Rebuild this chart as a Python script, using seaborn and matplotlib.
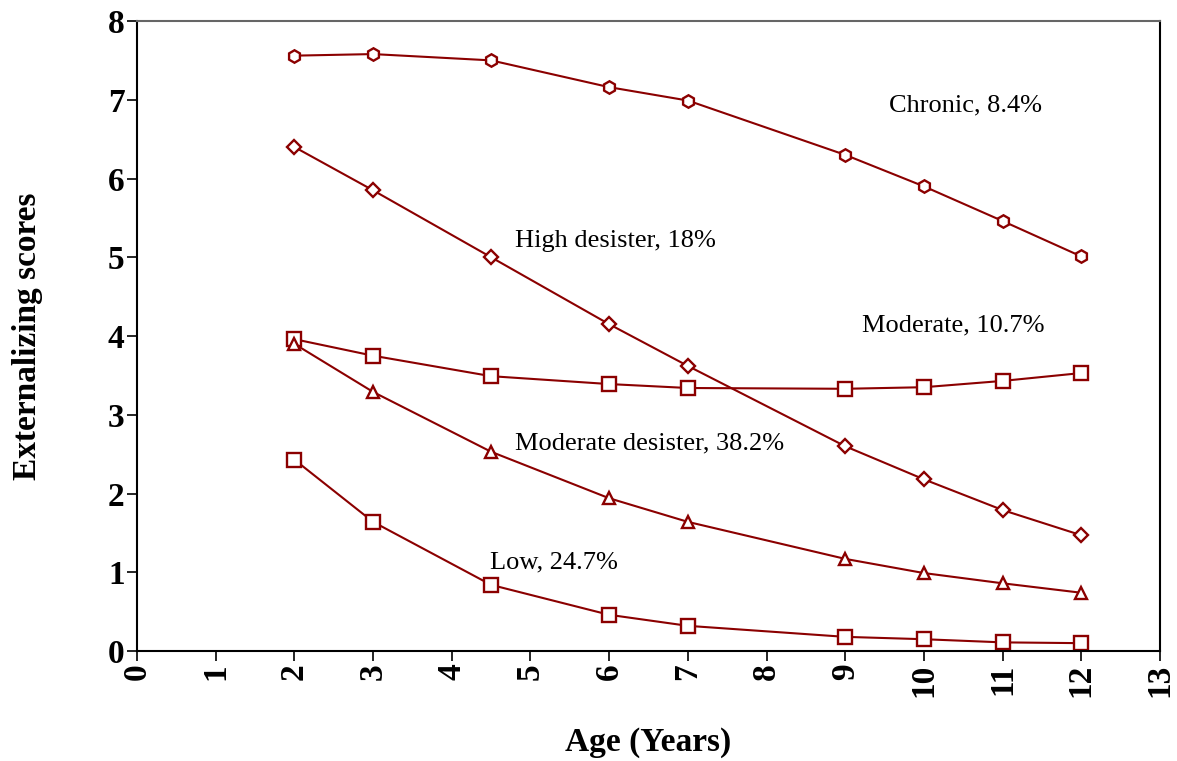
import matplotlib
matplotlib.use("Agg")
import matplotlib.pyplot as plt
import seaborn as sns
import pandas as pd

ages = [2, 3, 4.5, 6, 7, 9, 10, 11, 12]
chronic = [7.56, 7.58, 7.50, 7.16, 6.99, 6.30, 5.90, 5.46, 5.01]
high_desister = [6.40, 5.85, 5.00, 4.15, 3.62, 2.60, 2.18, 1.79, 1.47]
moderate = [3.96, 3.75, 3.49, 3.39, 3.34, 3.33, 3.35, 3.43, 3.53]
moderate_desister = [3.90, 3.29, 2.53, 1.94, 1.64, 1.17, 0.99, 0.86, 0.74]
low = [2.43, 1.64, 0.84, 0.46, 0.32, 0.18, 0.15, 0.11, 0.10]

groups = ["Chronic", "High desister", "Moderate", "Moderate desister", "Low"]
values = [chronic, high_desister, moderate, moderate_desister, low]
markers = ["h", "D", "s", "^", "s"]
msizes = [9, 7, 10, 9, 10]
labels = ["Chronic, 8.4%", "High desister, 18%", "Moderate, 10.7%",
          "Moderate desister, 38.2%", "Low, 24.7%"]
label_pos = [(9.55, 6.93), (4.80, 5.21), (9.21, 4.13), (4.80, 2.63), (4.49, 1.12)]

x_ticks = list(range(0, 14))
y_ticks = list(range(0, 9))

sns.set_theme(style="white")
plt.rcParams['font.family'] = ['Liberation Serif', 'DejaVu Serif']
plt.rcParams['text.color'] = 'black'
plt.rcParams['axes.labelcolor'] = 'black'
plt.rcParams['xtick.color'] = 'black'
plt.rcParams['ytick.color'] = 'black'

fig = plt.figure(figsize=(11.77, 7.61), dpi=100)
ax = fig.add_axes([0.1164, 0.1445, 0.8692, 0.8279])

color = "#8B0000"
for g, vals, m, ms in zip(groups, values, markers, msizes):
    df = pd.DataFrame({"age": ages, "score": vals})
    sns.lineplot(data=df, x="age", y="score", ax=ax, color=color, linewidth=1.5,
                 marker=m, markersize=ms, markerfacecolor="white",
                 markeredgecolor=color, markeredgewidth=1.7)

for txt, (x, y) in zip(labels, label_pos):
    ax.text(x, y, txt, fontsize=19, va="center", ha="left", color="black")

ax.set_xlim(0, 13)
ax.set_ylim(0, 8)
ax.set_xticks(x_ticks)
ax.set_yticks(y_ticks)
ax.set_xticklabels([str(t) for t in x_ticks], rotation=90, fontsize=24,
                   fontweight="bold", color="black")
ax.set_yticklabels([str(t) for t in y_ticks], fontsize=24, fontweight="bold",
                   color="black")
ax.tick_params(axis="both", direction="out", length=7, width=1.2, color="black",
               bottom=True, left=True, top=False, right=False, pad=2)
ax.set_xlabel("Age (Years)", fontsize=24, fontweight="bold", color="black")
ax.set_ylabel("Externalizing scores", fontsize=24, fontweight="bold", color="black")
ax.xaxis.set_label_coords(0.5, -0.145)
ax.yaxis.set_label_coords(-0.107, 0.5)
ax.xaxis.label.set_va("center")
ax.yaxis.label.set_va("center")

for side in ["left", "bottom", "right"]:
    ax.spines[side].set_color("black")
    ax.spines[side].set_linewidth(1.5)
ax.spines["top"].set_color("#666666")
ax.spines["top"].set_linewidth(1.5)

fig.savefig("out.png", dpi=100)
